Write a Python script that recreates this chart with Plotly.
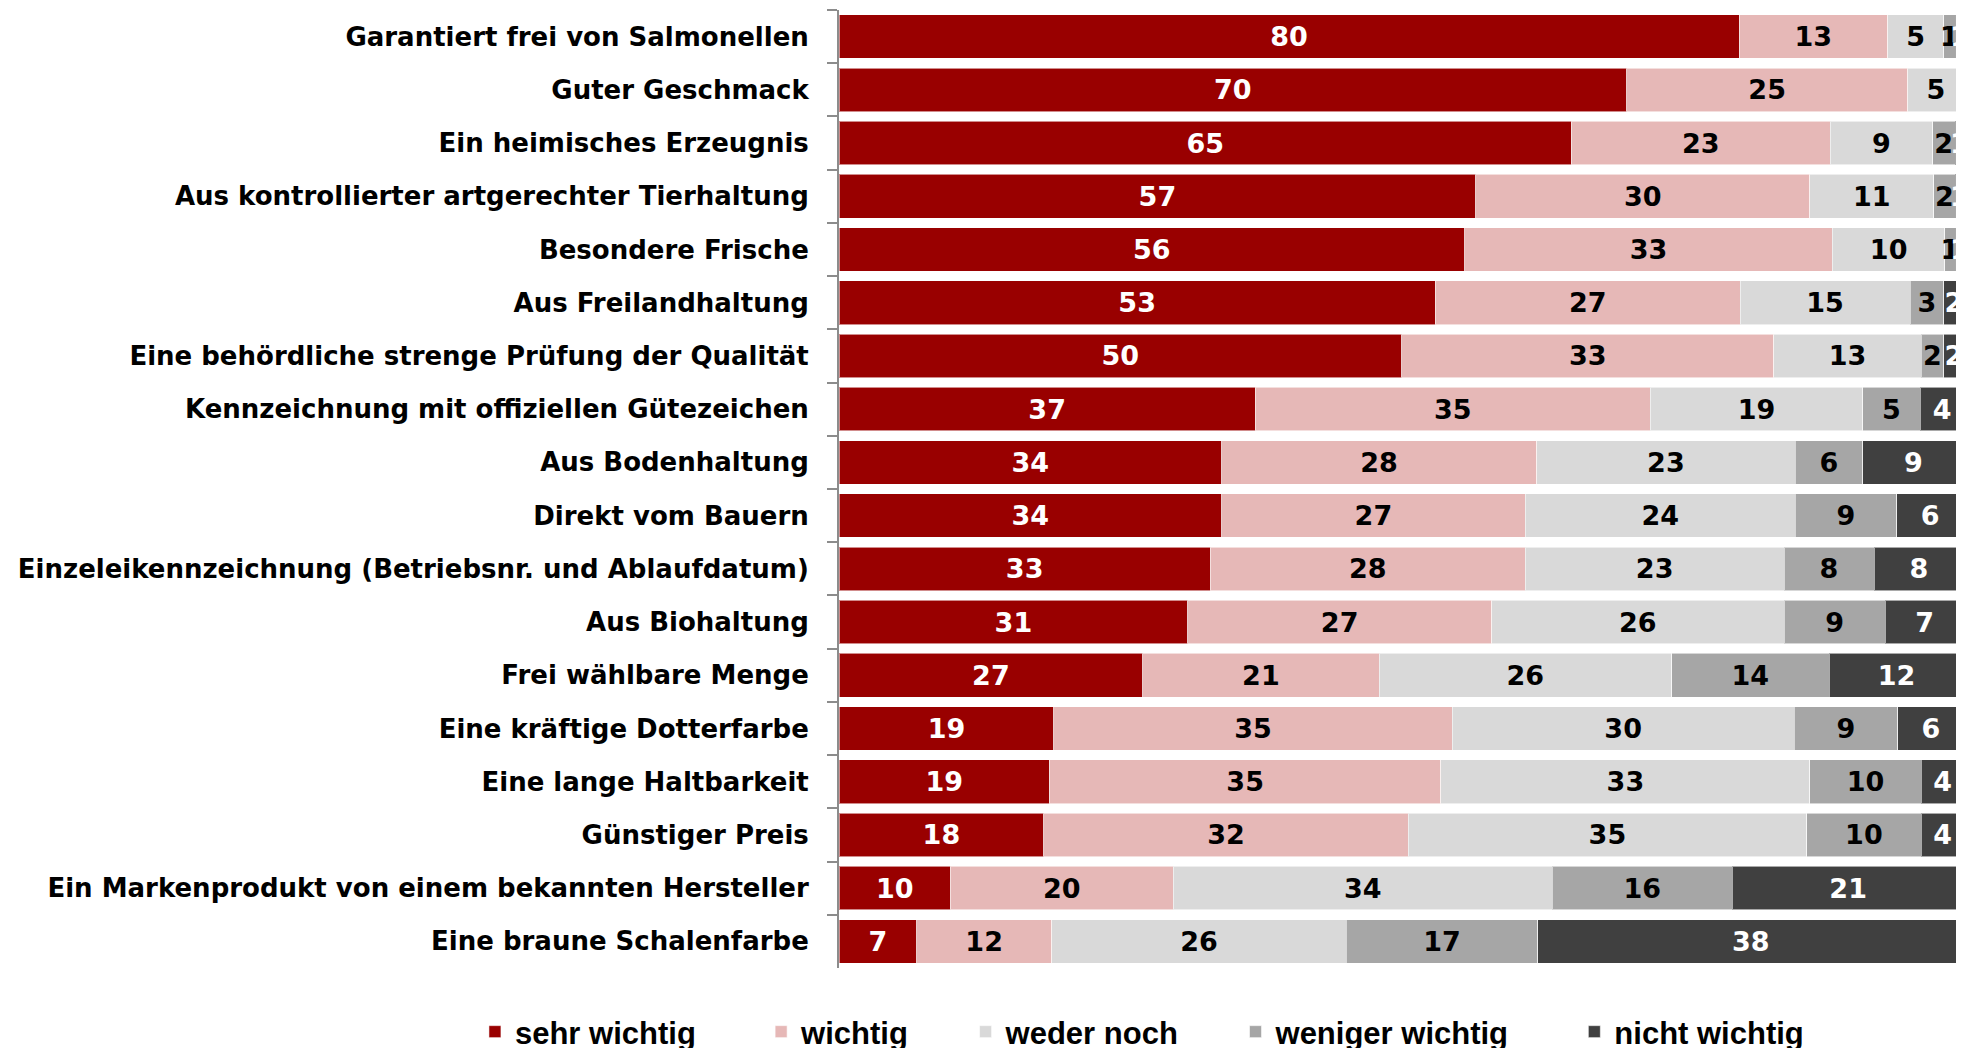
import plotly.graph_objects as go

categories = [
    "Garantiert frei von Salmonellen",
    "Guter Geschmack",
    "Ein heimisches Erzeugnis",
    "Aus kontrollierter artgerechter Tierhaltung",
    "Besondere Frische",
    "Aus Freilandhaltung",
    "Eine behördliche strenge Prüfung der Qualität",
    "Kennzeichnung mit offiziellen Gütezeichen",
    "Aus Bodenhaltung",
    "Direkt vom Bauern",
    "Einzeleikennzeichnung (Betriebsnr. und Ablaufdatum)",
    "Aus Biohaltung",
    "Frei wählbare Menge",
    "Eine kräftige Dotterfarbe",
    "Eine lange Haltbarkeit",
    "Günstiger Preis",
    "Ein Markenprodukt von einem bekannten Hersteller",
    "Eine braune Schalenfarbe",
]

sehr_wichtig = [80.0, 70.0, 65.1, 56.6, 55.6, 53.0, 50.0, 37.0, 34.0, 34.0, 33.0, 31.0, 27.0, 19.1, 18.7, 18.2, 9.9, 6.9]
wichtig = [13.2, 25.0, 23.0, 29.7, 32.7, 27.1, 33.1, 35.1, 28.0, 27.0, 28.0, 27.0, 21.0, 35.4, 34.8, 32.4, 19.8, 12.0]
weder_noch = [5.0, 5.0, 9.1, 11.0, 10.0, 15.1, 13.1, 18.9, 23.0, 24.0, 23.0, 26.0, 26.0, 30.4, 32.8, 35.4, 33.7, 26.2]
weniger_wichtig = [1.0, None, 2.0, 1.9, 0.9, 3.0, 2.0, 5.1, 6.0, 9.0, 8.0, 9.0, 14.0, 9.2, 9.9, 10.2, 16.0, 17.0]
nicht_wichtig = [0.8, None, 0.8, 0.8, 0.8, 1.8, 1.8, 3.9, 9.0, 6.0, 8.0, 7.0, 12.0, 5.9, 3.8, 3.8, 20.6, 37.9]

series = [
    ("sehr wichtig", sehr_wichtig, "#990000", "white", 7),
    ("wichtig", wichtig, "#E6B8B7", "black", 6),
    ("weder noch", weder_noch, "#D9D9D9", "black", 6),
    ("weniger wichtig", weniger_wichtig, "#A6A6A6", "black", 7),
    ("nicht wichtig", nicht_wichtig, "#404040", "white", 6),
]

fig = go.Figure()
for name, vals, color, tcolor, npad in series:
    fig.add_trace(go.Bar(
        y=categories,
        x=vals,
        name=name + "\u00a0" * npad,
        orientation="h",
        marker=dict(color=color, line=dict(color="rgba(255,255,255,0.55)", width=1)),
        texttemplate="%{x:.0f}",
        textposition="inside",
        insidetextanchor="middle",
        constraintext="none",
        textangle=0,
        textfont=dict(family="DejaVu Sans", size=27, color=tcolor, weight="bold"),
        hoverinfo="skip",
    ))

# the page body adds an 8px margin; sizes below compensate for it
fig.update_layout(
    width=1956,
    height=1040,
    barmode="stack",
    bargap=0.18,
    plot_bgcolor="white",
    paper_bgcolor="white",
    margin=dict(l=831, r=0, t=2, b=80, autoexpand=False),
    showlegend=True,
    legend=dict(
        orientation="h",
        xref="paper",
        yref="paper",
        x=-0.3236,
        xanchor="left",
        y=-0.0668,
        yanchor="middle",
        font=dict(family="Liberation Sans", size=31, color="black", weight="bold"),
        traceorder="normal",
        itemclick=False,
        itemdoubleclick=False,
    ),
    xaxis=dict(
        range=[0, 100],
        visible=False,
        showgrid=False,
        zeroline=False,
    ),
    yaxis=dict(
        autorange="reversed",
        showline=True,
        linecolor="#8C8C8C",
        linewidth=2,
        ticks="outside",
        ticklen=10,
        tickwidth=2,
        tickcolor="#8C8C8C",
        tickson="boundaries",
        ticklabelstandoff=23,
        automargin=False,
        showgrid=False,
        tickfont=dict(family="DejaVu Sans", size=26, color="black", weight="bold"),
    ),
)

fig.write_html("out.html")
